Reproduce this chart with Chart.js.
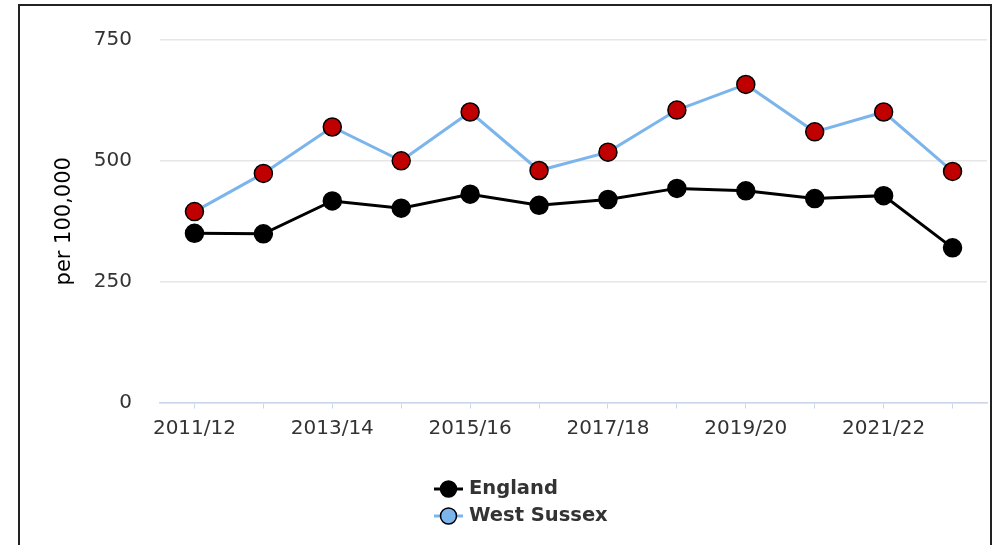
<!DOCTYPE html>
<html>
<head>
<meta charset="utf-8">
<script src="https://cdn.jsdelivr.net/npm/chart.js@4"></script>
<style>
  html, body { margin: 0; padding: 0; background: #fff; overflow: hidden; }
  #wrap { position: relative; width: 998px; height: 545px; }
  #frame {
    position: absolute; left: 18px; top: 4px; width: 970px; height: 600px;
    border: 2px solid #222; pointer-events: none;
  }
  canvas { position: absolute; left: 0; top: 0; }
</style>
</head>
<body>
<div id="wrap">
  <canvas id="myChart" width="998" height="545"></canvas>
  <div id="frame"></div>
</div>
<script>
const years = ["2011/12", "2012/13", "2013/14", "2014/15", "2015/16", "2016/17",
  "2017/18", "2018/19", "2019/20", "2020/21", "2021/22", "2022/23"];
const england = [350, 349, 417, 402, 431, 408, 420, 443, 438, 422, 428, 320];
const westSussex = [395, 474, 570, 500, 601, 480, 518, 605, 658, 560, 601, 478];
const yTicks = [0, 250, 500, 750];

const blue = "rgb(124, 181, 236)";
const red = "rgb(192, 0, 0)";
const axisBlue = "#ccd6eb";
const tickFont = { family: "DejaVu Sans", size: 20 };

// legend drawn under the plot, one row per series
const legendPlugin = {
  id: "stackLegend",
  afterDraw(chart) {
    const ctx = chart.ctx;
    const items = [
      { text: "England", line: "#000", fill: "#000", y: 489 },
      { text: "West Sussex", line: blue, fill: blue, y: 516 },
    ];
    ctx.save();
    items.forEach((it) => {
      ctx.strokeStyle = it.line;
      ctx.lineWidth = 3;
      ctx.beginPath();
      ctx.moveTo(434, it.y);
      ctx.lineTo(463, it.y);
      ctx.stroke();
      ctx.beginPath();
      ctx.arc(448.5, it.y, 8, 0, Math.PI * 2);
      ctx.fillStyle = it.fill;
      ctx.fill();
      ctx.lineWidth = 1.5;
      ctx.strokeStyle = "#000";
      ctx.stroke();
      ctx.fillStyle = "#333";
      ctx.font = "bold 19.5px 'DejaVu Sans'";
      ctx.textBaseline = "middle";
      ctx.fillText(it.text, 469, it.y);
    });
    ctx.restore();
  },
};

const ctx = document.getElementById("myChart");

new Chart(ctx, {
  type: "line",
  data: {
    labels: years,
    datasets: [
      {
        label: "England",
        data: england,
        borderColor: "#000",
        borderWidth: 3,
        backgroundColor: "#000",
        pointBackgroundColor: "#000",
        pointBorderColor: "#000",
        pointBorderWidth: 1.5,
        pointRadius: 9,
        tension: 0,
      },
      {
        label: "West Sussex",
        data: westSussex,
        borderColor: blue,
        borderWidth: 3,
        backgroundColor: blue,
        pointBackgroundColor: red,
        pointBorderColor: "#000",
        pointBorderWidth: 1.5,
        pointRadius: 9,
        tension: 0,
      },
    ],
  },
  options: {
    responsive: false,
    animation: false,
    devicePixelRatio: 1,
    layout: { padding: { left: 0, right: 11, top: 38, bottom: 0 } },
    scales: {
      x: {
        offset: true,
        grid: {
          offset: false,
          drawOnChartArea: false,
          drawTicks: true,
          tickLength: 6,
          color: axisBlue,
        },
        border: { color: axisBlue, width: 1.5 },
        ticks: {
          autoSkip: false,
          maxRotation: 0,
          padding: 8,
          color: "#333",
          font: tickFont,
          callback: (v, i) => (i % 2 === 0 ? years[i] : ""),
        },
        afterFit: (scale) => { scale.height = 142.5; },
      },
      y: {
        min: 0,
        max: 750,
        afterBuildTicks: (scale) => { scale.ticks = yTicks.map((v) => ({ value: v })); },
        grid: { color: "#e6e6e6", drawTicks: false, lineWidth: 1.5 },
        border: { display: false },
        ticks: { padding: 28, color: "#333", font: tickFont },
        title: {
          display: true,
          text: "per 100,000",
          color: "#000",
          font: { family: "DejaVu Sans", size: 21 },
          padding: { top: 52, bottom: 0 },
        },
        afterFit: (scale) => { scale.width = 160; },
      },
    },
    plugins: {
      legend: { display: false },
      tooltip: { enabled: false },
    },
  },
  plugins: [legendPlugin],
});
</script>
</body>
</html>
